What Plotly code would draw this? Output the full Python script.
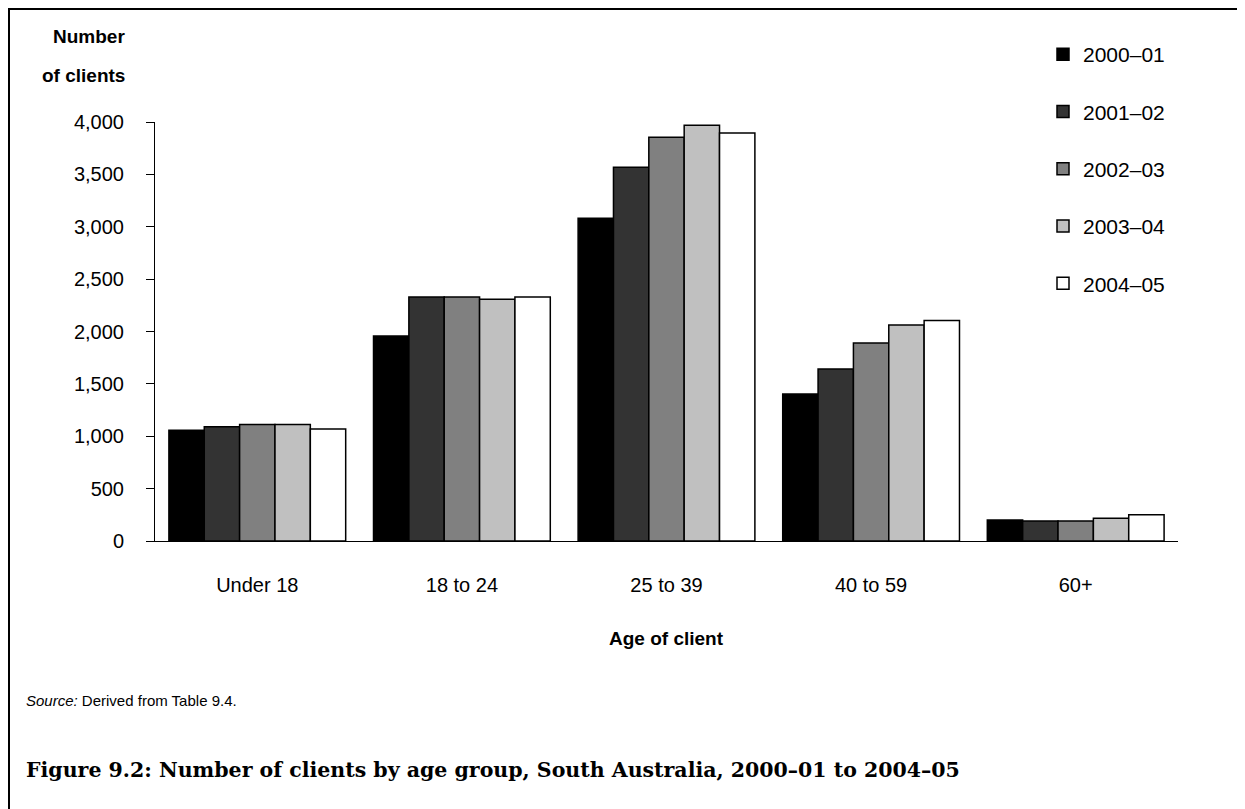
import plotly.graph_objects as go

categories = ["Under 18", "18 to 24", "25 to 39", "40 to 59", "60+"]
series_names = ["2000\u201301", "2001\u201302", "2002\u201303", "2003\u201304", "2004\u201305"]
v_2000_01 = [1058, 1957, 3082, 1404, 200]
v_2001_02 = [1090, 2329, 3568, 1643, 190]
v_2002_03 = [1112, 2329, 3854, 1890, 190]
v_2003_04 = [1112, 2307, 3969, 2062, 216]
v_2004_05 = [1070, 2329, 3896, 2104, 251]
y_ticks = [0, 500, 1000, 1500, 2000, 2500, 3000, 3500, 4000]
y_tick_labels = ["0", "500", "1,000", "1,500", "2,000", "2,500", "3,000", "3,500", "4,000"]

series_values = [v_2000_01, v_2001_02, v_2002_03, v_2003_04, v_2004_05]
fills = ["#000000", "#333333", "#808080", "#c0c0c0", "#ffffff"]

# page has an 8px body margin; work in page pixels and convert
OFF = 8
W, H = 1245 - OFF, 809 - OFF
PLOT_L, PLOT_R, PLOT_T, PLOT_B = 155, 1178, 122, 541  # page pixels
L = PLOT_L - OFF
R = W - (PLOT_R - OFF)
T = PLOT_T - OFF
B = H - (PLOT_B - OFF)
PW = PLOT_R - PLOT_L
PH = PLOT_B - PLOT_T

def px(x):
    return (x - PLOT_L) / PW

def py(y):
    return (PLOT_B - y) / PH

SANS = "Liberation Sans, Arial, sans-serif"

fig = go.Figure()
for i, (name, vals) in enumerate(zip(series_names, series_values)):
    fig.add_trace(go.Bar(
        x=categories, y=vals, name=name,
        marker=dict(color=fills[i], line=dict(color="#000000", width=1.5)),
        legendgroup=name,
    ))

fig.update_layout(
    width=W, height=H,
    margin=dict(l=L, r=R, t=T, b=B, pad=0),
    paper_bgcolor="#ffffff", plot_bgcolor="#ffffff",
    barmode="group", bargap=0.136, bargroupgap=0,
    font=dict(family=SANS, size=20, color="#000000"),
    showlegend=True,
    legend=dict(
        x=px(1043), xanchor="left", y=py(34), yanchor="top",
        font=dict(family=SANS, size=21, color="#000000"),
        tracegroupgap=27, bgcolor="rgba(0,0,0,0)", borderwidth=0,
    ),
    xaxis=dict(
        showline=True, linecolor="#000000", linewidth=1,
        ticks="", showgrid=False, zeroline=False,
        tickfont=dict(family=SANS, size=20),
        ticklabelstandoff=26,
    ),
    yaxis=dict(
        range=[0, 4000], tickvals=y_ticks, ticktext=y_tick_labels,
        showline=True, linecolor="#000000", linewidth=1,
        ticks="outside", ticklen=8, tickcolor="#000000", tickwidth=1,
        showgrid=False, zeroline=False,
        tickfont=dict(family=SANS, size=20),
        ticklabelstandoff=18,
    ),
)

annotations = [
    dict(text="<b>Number</b>", x=px(127), y=py(37), xanchor="right", yanchor="middle",
         font=dict(family=SANS, size=19)),
    dict(text="<b>of clients</b>", x=px(127), y=py(75), xanchor="right", yanchor="middle",
         font=dict(family=SANS, size=19)),
    dict(text="<b>Age of client</b>", x=0.5, y=py(638), xanchor="center", yanchor="middle",
         font=dict(family=SANS, size=19)),
    dict(text="<i>Source:</i> Derived from Table 9.4.", x=px(24), y=py(700), xanchor="left",
         yanchor="middle", font=dict(family=SANS, size=15)),
    dict(text="<b>Figure 9.2: Number of clients by age group, South Australia, 2000\u201301 to 2004\u201305</b>",
         x=px(24), y=py(770), xanchor="left", yanchor="middle",
         font=dict(family="DejaVu Serif, serif", size=20.5)),
]
for a in annotations:
    a.update(xref="paper", yref="paper", showarrow=False)
fig.update_layout(annotations=annotations)

fig.add_shape(type="line", xref="paper", yref="paper", x0=px(8), x1=px(1250), y0=py(9), y1=py(9),
              line=dict(color="#000000", width=2))
fig.add_shape(type="line", xref="paper", yref="paper", x0=px(9), x1=px(9), y0=py(8), y1=py(815),
              line=dict(color="#000000", width=2))

fig.write_html("out.html")
